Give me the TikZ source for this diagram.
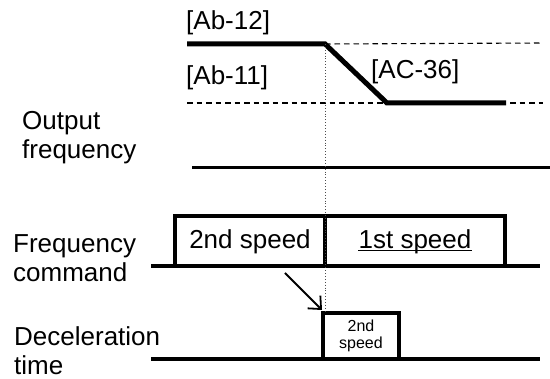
\documentclass[tikz,border=0pt]{standalone}
\usepackage{fontspec}
\setmainfont{Liberation Sans}
\usetikzlibrary{arrows.meta}
\begin{document}
\begin{tikzpicture}[x=1pt,y=-1pt,
  thickline/.style={line width=5pt},
  baseline/.style={line width=4.5pt},
  pulse/.style={line width=4.5pt, line join=miter},
  dashline/.style={line width=1.1pt, dash pattern=on 5.5pt off 4pt},
  guide/.style={line width=0.9pt, dotted, black!70},
  lbl/.style={font=\fontsize{26}{29}\selectfont, inner sep=0pt},
  sidelbl/.style={font=\fontsize{26}{29}\selectfont, inner sep=0pt, align=left, anchor=west},
  small/.style={font=\fontsize{16}{17}\selectfont, inner sep=0pt, align=center}]
\useasboundingbox (0,0) rectangle (550,379);
% coordinates
\coordinate (hiL) at (187,44);
\coordinate (hiR) at (325,44);
\coordinate (loL) at (387,103);
\coordinate (loR) at (506,103);
\coordinate (dhR) at (543,43);
\coordinate (dlL) at (187,103);
\coordinate (dlR) at (543,103);
% output frequency
\draw[dashline] (hiR) -- (dhR);
\draw[dashline] (dlL) -- (dlR);
\draw[thickline] (hiL) -- (hiR) -- (loL) -- (loR);
\node[lbl, anchor=west] (ab12) at (186,23) {[Ab-12]};
\node[lbl, anchor=west] (ab11) at (186,78) {[Ab-11]};
\node[lbl, anchor=west] (ac36) at (371,72) {[AC-36]};
\coordinate (ofL) at (192,168);
\coordinate (ofR) at (550,168);
\draw[line width=3pt] (ofL) -- (ofR);
\node[sidelbl] (olbl) at (22,138) {Output\\frequency};
% frequency command
\coordinate (fcL) at (151,266);
\coordinate (fcR) at (540,266);
\draw[baseline] (fcL) -- (fcR);
\draw[pulse] (175,266) -- (175,216) -- (505,216) -- (505,266);
\draw[pulse] (325,216) -- (325,266);
\node[lbl] (sp2) at (250,242) {2nd speed};
\node[lbl] (sp1) at (415,242) {1st speed};
\draw[line width=1.3pt] ([yshift=-2pt]sp1.base west) -- ([yshift=-2pt]sp1.base east);
\node[sidelbl] (flbl) at (13,258) {Frequency\\command};
% deceleration time
\coordinate (dtL) at (151,359);
\coordinate (dtR) at (540,359);
\draw[baseline] (dtL) -- (dtR);
\draw[pulse] (323,359) -- (323,313) -- (399,313) -- (399,359);
\node[small] (dsp) at (361,336) {2nd\\speed};
\node[sidelbl] (dlbl) at (14,351) {Deceleration\\time};
% guide and arrow
\coordinate (gtop) at (325,44);
\coordinate (gbot) at (325,311);
\draw[guide] (gtop) -- (gbot);
\coordinate (aS) at (285,273);
\coordinate (aE) at (322,310);
\draw[line width=1.8pt, -{Straight Barb[length=10pt,width=18pt,line width=1.8pt]}] (aS) -- (aE);
\end{tikzpicture}
\end{document}
